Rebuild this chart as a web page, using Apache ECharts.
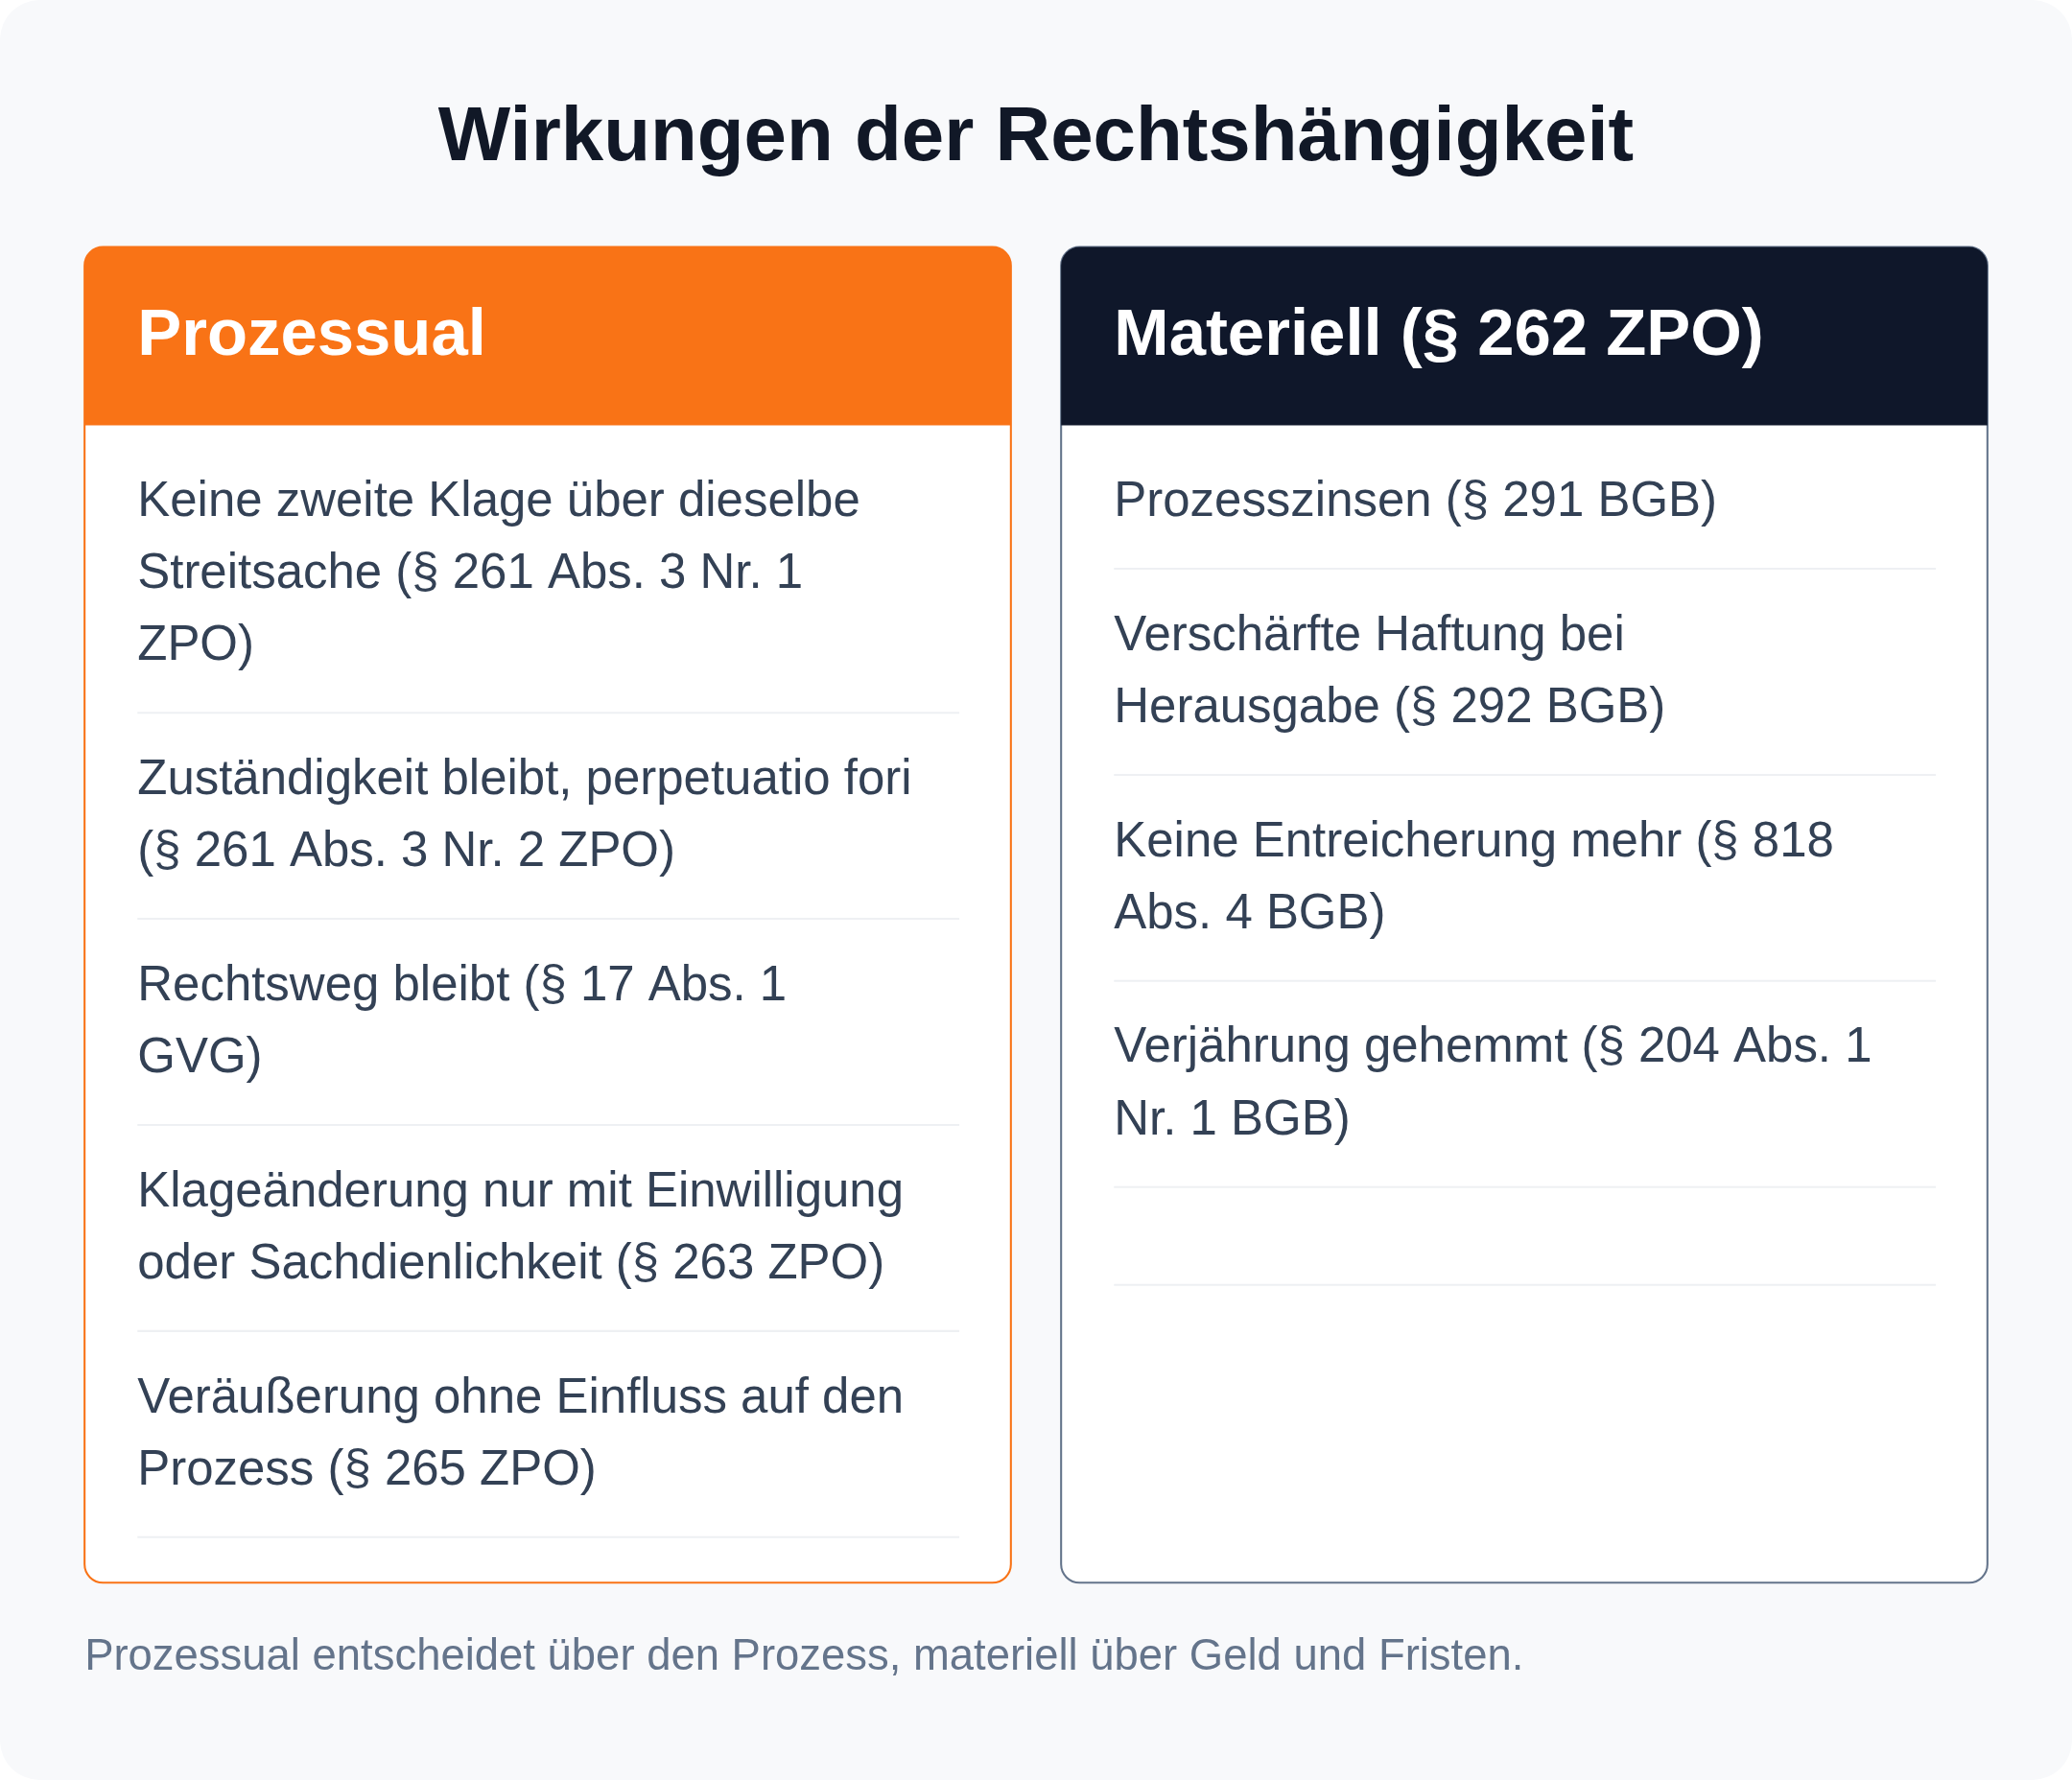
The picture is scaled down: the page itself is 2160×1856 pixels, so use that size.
<!DOCTYPE html>
<html><head><meta charset="utf-8">
<script src="https://cdn.jsdelivr.net/npm/echarts@6/dist/echarts.min.js"></script>
<style>html,body{margin:0;padding:0;background:#fff}#c{width:2160px;height:1856px}</style>
</head><body><div id="c"></div>
<script>
const title = 'Wirkungen der Rechtshängigkeit';
const leftTitle = 'Prozessual';
const rightTitle = 'Materiell (§ 262 ZPO)';
const leftItems = [
  'Keine zweite Klage über dieselbe\nStreitsache (§ 261 Abs. 3 Nr. 1\nZPO)',
  'Zuständigkeit bleibt, perpetuatio fori\n(§ 261 Abs. 3 Nr. 2 ZPO)',
  'Rechtsweg bleibt (§ 17 Abs. 1\nGVG)',
  'Klageänderung nur mit Einwilligung\noder Sachdienlichkeit (§ 263 ZPO)',
  'Veräußerung ohne Einfluss auf den\nProzess (§ 265 ZPO)'
];
const rightItems = [
  'Prozesszinsen (§ 291 BGB)',
  'Verschärfte Haftung bei\nHerausgabe (§ 292 BGB)',
  'Keine Entreicherung mehr (§ 818\nAbs. 4 BGB)',
  'Verjährung gehemmt (§ 204 Abs. 1\nNr. 1 BGB)',
  ''
];
const footer = 'Prozessual entscheidet über den Prozess, materiell über Geld und Fristen.';

const S = 2160/1568;
const F = '"Liberation Sans", Arial, sans-serif';
const g = [];
g.push({type:'rect',shape:{x:0,y:0,width:2160,height:1856,r:30*S},style:{fill:'#f8f9fb'}});
g.push({type:'text',x:784*S,y:105*S,style:{text:title,font:`bold ${58*S}px ${F}`,fill:'#111827',align:'center',verticalAlign:'middle'}});

function card(x0, head, headColor, border, items){
  const w=701, top=187, bot=1198, hh=135, r=14;
  g.push({type:'rect',shape:{x:x0*S,y:top*S,width:w*S,height:(bot-top)*S,r:r*S},style:{fill:'#fff',stroke:border,lineWidth:1.5*S}});
  g.push({type:'rect',shape:{x:x0*S,y:top*S,width:w*S,height:hh*S,r:[r*S,r*S,0,0]},style:{fill:headColor}});
  g.push({type:'text',x:(x0+40)*S,y:(top+68)*S,style:{text:head,font:`bold ${50*S}px ${F}`,fill:'#fff',verticalAlign:'middle'}});
  let y = top+hh+7;
  items.forEach(t=>{
    let sep;
    if(t===''){ sep = y+74; }
    else {
      const n=t.split('\n').length;
      const tt=y+24;
      g.push({type:'text',x:(x0+40)*S,y:tt*S,style:{text:t,font:`${37*S}px ${F}`,lineHeight:54.5*S,fill:'#334155',verticalAlign:'top'}});
      sep = tt+n*54.5+23;
    }
    g.push({type:'line',shape:{x1:(x0+40)*S,y1:sep*S,x2:(x0+662)*S,y2:sep*S},style:{stroke:'#eef0f3',lineWidth:1.5*S}});
    y=sep;
  });
}
card(64,leftTitle,'#f97316','#f97316',leftItems);
card(803,rightTitle,'#0f172a','#64748b',rightItems);
g.push({type:'text',x:64*S,y:1255*S,style:{text:footer,font:`${33*S}px ${F}`,fill:'#64748b',verticalAlign:'middle'}});

const chart = echarts.init(document.getElementById('c'));
chart.setOption({animation:false,graphic:{elements:g}});
</script></body></html>
